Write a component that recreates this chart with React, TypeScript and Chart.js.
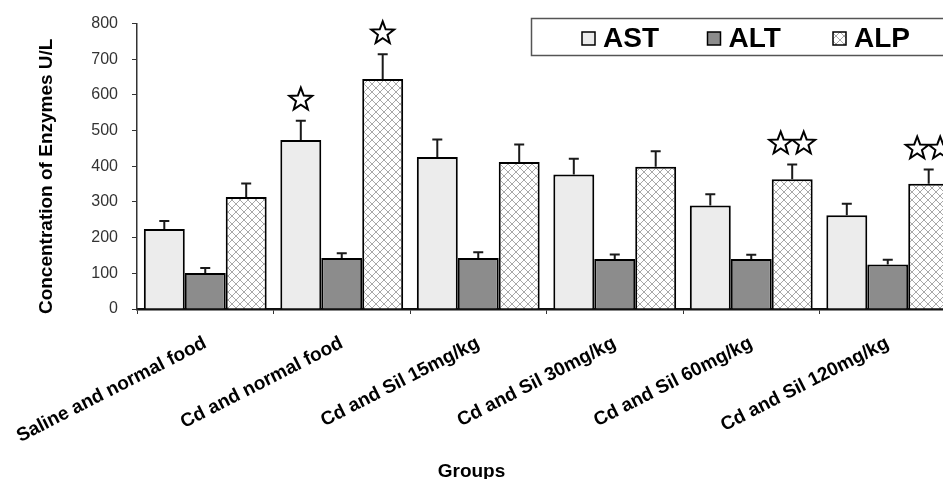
import React, { useEffect, useRef } from 'react';
import { Chart, registerables } from 'chart.js';

Chart.register(...registerables);

const groups = [
  'Saline and normal food',
  'Cd and normal food',
  'Cd and Sil 15mg/kg',
  'Cd and Sil 30mg/kg',
  'Cd and Sil 60mg/kg',
  'Cd and Sil 120mg/kg',
];
const seriesNames = ['AST', 'ALT', 'ALP'];
const astValues = [224, 474, 426, 377, 290, 263];
const astErrors = [23, 54, 49, 44, 32, 32];
const altValues = [101, 143, 143, 140, 140, 125];
const altErrors = [14, 13, 16, 13, 12, 13];
const alpValues = [314, 645, 412, 399, 364, 351];
const alpErrors = [38, 69, 49, 43, 41, 40];
const astStars = [0, 1, 0, 0, 0, 0];
const altStars = [0, 0, 0, 0, 0, 0];
const alpStars = [0, 1, 0, 0, 2, 2];
const yMin = 0;
const yMax = 800;
const yStep = 100;
const yTitle = 'Concentration of Enzymes U/L';
const xTitle = 'Groups';

const FONT = '"Liberation Sans", Arial, Helvetica, sans-serif';
const CANVAS_W = 990;
const CANVAS_H = 479;

function makePattern(): CanvasPattern | string {
  const c = document.createElement('canvas');
  c.width = 8;
  c.height = 8;
  const g = c.getContext('2d');
  if (!g) return '#ffffff';
  g.fillStyle = '#ffffff';
  g.fillRect(0, 0, 8, 8);
  g.strokeStyle = '#a8a8a8';
  g.lineWidth = 1;
  g.beginPath();
  g.moveTo(0, 0);
  g.lineTo(8, 8);
  g.moveTo(8, 0);
  g.lineTo(0, 8);
  g.stroke();
  const p = g.createPattern(c, 'repeat');
  return p || '#ffffff';
}

function drawStar(ctx: CanvasRenderingContext2D, cx: number, cy: number, ro: number, ri: number) {
  ctx.beginPath();
  for (let k = 0; k < 10; k++) {
    const r = k % 2 === 0 ? ro : ri;
    const a = -Math.PI / 2 + (k * Math.PI) / 5;
    const px = cx + r * Math.cos(a);
    const py = cy + r * Math.sin(a);
    if (k === 0) ctx.moveTo(px, py);
    else ctx.lineTo(px, py);
  }
  ctx.closePath();
  ctx.fillStyle = '#ffffff';
  ctx.fill();
  ctx.strokeStyle = '#000000';
  ctx.lineWidth = 2;
  ctx.stroke();
}

const overlayPlugin = {
  id: 'overlay',
  afterDatasetsDraw(chart: any) {
    const ctx: CanvasRenderingContext2D = chart.ctx;
    const ys = chart.scales.y;
    chart.data.datasets.forEach((ds: any, di: number) => {
      const meta = chart.getDatasetMeta(di);
      meta.data.forEach((el: any, i: number) => {
        const v = ds.data[i];
        const e = ds.errors[i];
        const top = ys.getPixelForValue(v + e);
        ctx.save();
        ctx.strokeStyle = '#1a1a1a';
        ctx.lineWidth = 2;
        ctx.beginPath();
        ctx.moveTo(el.x, el.y);
        ctx.lineTo(el.x, top);
        ctx.moveTo(el.x - 5, top);
        ctx.lineTo(el.x + 5, top);
        ctx.stroke();
        const n = ds.stars[i];
        for (let k = 0; k < n; k++) {
          const cx = el.x + (k - (n - 1) / 2) * 23;
          drawStar(ctx, cx, top - 21, 12, 5);
        }
        ctx.restore();
      });
    });
  },
  afterDraw(chart: any) {
    const ctx: CanvasRenderingContext2D = chart.ctx;
    const area = chart.chartArea;
    ctx.save();
    // Y axis title
    ctx.fillStyle = '#000000';
    ctx.font = `bold 19px ${FONT}`;
    ctx.textAlign = 'center';
    ctx.textBaseline = 'middle';
    ctx.translate(47, (area.top + area.bottom) / 2 + 10);
    ctx.rotate(-Math.PI / 2);
    ctx.fillText(yTitle, 0, 0);
    ctx.setTransform(1, 0, 0, 1, 0, 0);
    // X axis title
    ctx.font = `bold 19px ${FONT}`;
    ctx.textAlign = 'center';
    ctx.textBaseline = 'alphabetic';
    ctx.fillText(xTitle, 471.5, 477);
    // Legend
    const bx = 531.5;
    const by = 18.5;
    ctx.fillStyle = '#ffffff';
    ctx.fillRect(bx, by, 480, 37);
    ctx.strokeStyle = '#555555';
    ctx.lineWidth = 1.5;
    ctx.strokeRect(bx, by, 480, 37);
    chart.data.datasets.forEach((ds: any, di: number) => {
      const sx = 582 + di * 125.5;
      ctx.fillStyle = ds.backgroundColor;
      ctx.fillRect(sx, 32, 13, 13);
      ctx.strokeStyle = '#000000';
      ctx.lineWidth = 1.5;
      ctx.strokeRect(sx, 32, 13, 13);
      ctx.fillStyle = '#000000';
      ctx.font = `bold 28px ${FONT}`;
      ctx.textAlign = 'left';
      ctx.textBaseline = 'alphabetic';
      ctx.fillText(ds.label, sx + 21, 47);
    });
    ctx.restore();
  },
};

export default function App() {
  const ref = useRef<HTMLCanvasElement | null>(null);
  useEffect(() => {
    if (!ref.current) return;
    const pattern = makePattern();
    const chart = new Chart(ref.current, {
      type: 'bar',
      data: {
        labels: groups,
        datasets: [
          {
            label: seriesNames[0],
            data: astValues,
            errors: astErrors,
            stars: astStars,
            backgroundColor: '#ececec',
            borderColor: '#000000',
            borderWidth: 2,
          },
          {
            label: seriesNames[1],
            data: altValues,
            errors: altErrors,
            stars: altStars,
            backgroundColor: '#8c8c8c',
            borderColor: '#000000',
            borderWidth: 2,
          },
          {
            label: seriesNames[2],
            data: alpValues,
            errors: alpErrors,
            stars: alpStars,
            backgroundColor: pattern,
            borderColor: '#000000',
            borderWidth: 2,
          },
        ] as any,
      },
      options: {
        responsive: false,
        animation: false,
        maintainAspectRatio: false,
        layout: { padding: { left: 35, top: 21, right: CANVAS_W - 956, bottom: 0 } },
        datasets: { bar: { categoryPercentage: 0.9, barPercentage: 1.0 } },
        plugins: {
          legend: { display: false },
          tooltip: { enabled: false },
          title: { display: false },
        },
        scales: {
          x: {
            grid: { display: true, drawOnChartArea: false, drawTicks: true, tickLength: 5, color: '#333333' },
            border: { display: true, color: '#111111', width: 2.5 },
            ticks: {
              autoSkip: false,
              minRotation: 27,
              maxRotation: 27,
              padding: 18,
              color: '#000000',
              font: { family: FONT, size: 19, weight: 'bold' },
            },
            afterFit: (s: any) => {
              s.height = 170;
              s.paddingLeft = 0;
              s.paddingRight = 0;
            },
          },
          y: {
            min: yMin,
            max: yMax,
            grid: { display: true, drawOnChartArea: false, drawTicks: true, tickLength: 5, color: '#333333' },
            border: { display: true, color: '#333333', width: 1.5 },
            ticks: {
              stepSize: yStep,
              padding: 14,
              color: '#333333',
              font: { family: FONT, size: 16 },
            },
            afterFit: (s: any) => {
              s.width = 102;
            },
          },
        },
      } as any,
      plugins: [overlayPlugin],
    });
    return () => chart.destroy();
  }, []);
  return (
    <div style={{ position: 'absolute', left: 0, top: 0, width: 943, height: 479, overflow: 'hidden', background: '#ffffff' }}>
      <canvas ref={ref} width={CANVAS_W} height={CANVAS_H} style={{ width: CANVAS_W, height: CANVAS_H, display: 'block' }} />
    </div>
  );
}
